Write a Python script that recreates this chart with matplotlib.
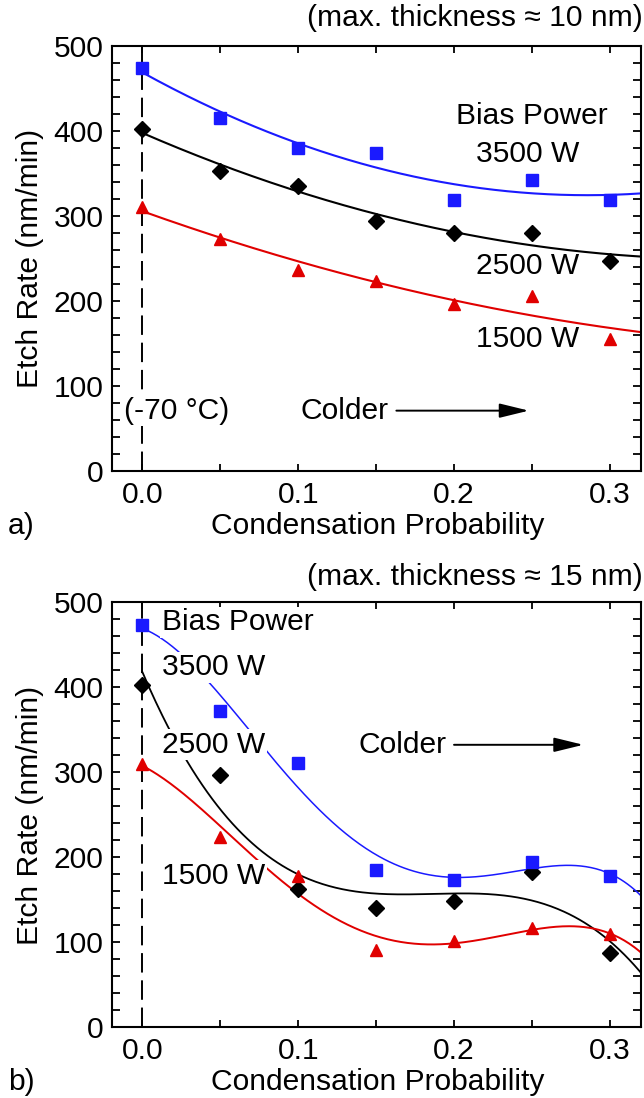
import numpy as np
import matplotlib
matplotlib.use("Agg")
import matplotlib.pyplot as plt

plt.rcParams['font.family'] = ['Liberation Sans', 'DejaVu Sans']

# ---- data ----
cond_prob = [0.0, 0.05, 0.10, 0.15, 0.20, 0.25, 0.30]
powers = ["3500 W", "2500 W", "1500 W"]

a_3500 = [474, 415, 380, 374, 319, 342, 319]
a_2500 = [402, 353, 335, 294, 280, 280, 247]
a_1500 = [311, 273, 236, 223, 197, 206, 155]

b_3500 = [473, 372, 311, 185, 173, 194, 178]
b_2500 = [402, 296, 162, 140, 148, 182, 87]
b_1500 = [310, 224, 178, 91, 101, 117, 109]

colors = ['#1a1aff', '#000000', '#e00000']
markers = ['s', 'D', '^']
msizes = [8.6, 8.0, 9.0]

W, H = 644, 1098
fig = plt.figure(figsize=(W / 100, H / 100), dpi=100)
FS = 21.6

def px_axes(l, t, r, b):
    return fig.add_axes([l / W, 1 - b / H, (r - l) / W, (b - t) / H])

ax_a = px_axes(112, 46, 641, 471)
ax_b = px_axes(112, 602, 641, 1027)

def style(ax):
    ax.set_xlim(-0.0195, 0.32)
    ax.set_ylim(0, 500)
    ax.set_xticks(np.arange(0, 0.31, 0.05), minor=True)
    ax.set_xticks([0.0, 0.1, 0.2, 0.3])
    ax.set_xticklabels(['0.0', '0.1', '0.2', '0.3'])
    ax.set_yticks(np.arange(0, 501, 100))
    ax.set_yticks(np.arange(0, 501, 20), minor=True)
    ax.tick_params(which='both', direction='in', top=True, right=True,
                   labelsize=FS, width=1.3, color='k')
    ax.tick_params(which='major', axis='y', length=6, pad=6)
    ax.tick_params(which='minor', axis='y', length=6)
    ax.tick_params(which='both', axis='x', length=5, pad=7)
    for s in ax.spines.values():
        s.set_linewidth(1.5)
    ax.axvline(0, color='k', lw=1.4, dashes=(10, 4), zorder=1)

xfit = np.linspace(0, 0.32, 300)
x = np.array(cond_prob)

def draw(ax, series, degs, lws):
    for i, ys in enumerate(series):
        c = np.polyfit(x, np.array(ys), degs[i])
        ax.plot(xfit, np.polyval(c, xfit), color=colors[i], lw=lws[i], zorder=2)
    for i in [1, 2, 0]:
        ax.plot(x, series[i], linestyle='none', marker=markers[i], ms=msizes[i],
                color=colors[i], mec=colors[i], zorder=5)

style(ax_a)
style(ax_b)
draw(ax_a, [a_3500, a_2500, a_1500], [2, 2, 2], [1.5, 1.5, 1.5])
draw(ax_b, [b_3500, b_2500, b_1500], [4, 3, 4], [1.1, 1.3, 1.4])

box = dict(facecolor='white', edgecolor='none', pad=1.0)

# panel a annotations
ax_a.text(0.25, 418, "Bias Power", fontsize=FS, ha='center', va='center')
ax_a.text(0.247, 373, powers[0], fontsize=FS, ha='center', va='center')
ax_a.text(0.247, 241, powers[1], fontsize=FS, ha='center', va='center')
ax_a.text(0.247, 155, powers[2], fontsize=FS, ha='center', va='center')
ax_a.text(0.022, 71, "(-70 °C)", fontsize=FS, ha='center', va='center', bbox=box, zorder=4)
ax_a.text(0.13, 71, "Colder", fontsize=FS, ha='center', va='center')
ax_a.annotate('', xy=(0.248, 71), xytext=(0.163, 71),
              arrowprops=dict(arrowstyle='-|>,head_length=0.9,head_width=0.22',
                              color='k', lw=1.4, shrinkA=0, shrinkB=0, mutation_scale=20))

# panel b annotations
tb = dict(fontsize=FS, ha='left', va='center', bbox=box, zorder=4)
ax_b.text(0.0125, 476, "Bias Power", **tb)
ax_b.text(0.0125, 423, powers[0], **tb)
ax_b.text(0.0125, 332, powers[1], **tb)
ax_b.text(0.0125, 178, powers[2], **tb)
ax_b.text(0.139, 332, "Colder", fontsize=FS, ha='left', va='center')
ax_b.annotate('', xy=(0.283, 332), xytext=(0.2, 332),
              arrowprops=dict(arrowstyle='-|>,head_length=0.9,head_width=0.22',
                              color='k', lw=1.4, shrinkA=0, shrinkB=0, mutation_scale=20))

# figure texts
fig.text(643 / W, 1 - 18 / H, "(max. thickness ≈ 10 nm)", fontsize=FS, ha='right', va='center')
fig.text(643 / W, 1 - 577 / H, "(max. thickness ≈ 15 nm)", fontsize=FS, ha='right', va='center')
for yc in [258, 815]:
    fig.text(30 / W, 1 - yc / H, "Etch Rate (nm/min)", fontsize=FS, rotation=90,
             ha='center', va='center')
fig.text(378 / W, 1 - 526 / H, "Condensation Probability", fontsize=FS, ha='center', va='center')
fig.text(378 / W, 1 - 1082 / H, "Condensation Probability", fontsize=FS, ha='center', va='center')
fig.text(8 / W, 1 - 526 / H, "a)", fontsize=FS, ha='left', va='center')
fig.text(8 / W, 1 - 1082 / H, "b)", fontsize=FS, ha='left', va='center')

fig.savefig("out.png", dpi=100)
